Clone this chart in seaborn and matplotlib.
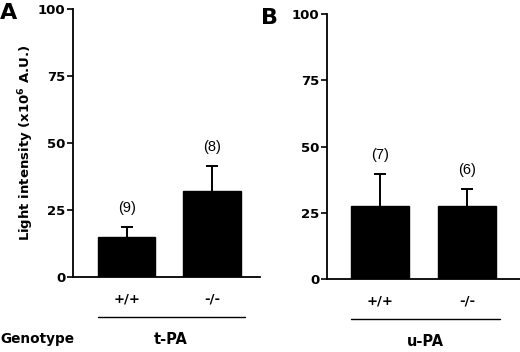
import matplotlib
matplotlib.use("Agg")
import matplotlib.pyplot as plt
import matplotlib.transforms as mtransforms
import seaborn as sns
import numpy as np
import pandas as pd

### values
GENOTYPES = ["+/+", "-/-"]
TPA_MEAN = [15.0, 32.3]
TPA_SEM = [3.6, 9.0]
TPA_N = ["(9)", "(8)"]
UPA_MEAN = [27.7, 27.6]
UPA_SEM = [11.8, 6.4]
UPA_N = ["(7)", "(6)"]
YTICKS = [0, 25, 50, 75, 100]

sns.set_style("ticks")
plt.rcParams["font.family"] = ["DejaVu Sans"]
plt.rcParams["mathtext.fontset"] = "custom"
plt.rcParams["mathtext.rm"] = "DejaVu Sans:bold"
plt.rcParams["mathtext.bf"] = "DejaVu Sans:bold"
for k in ["text.color", "axes.labelcolor", "xtick.color", "ytick.color"]:
	plt.rcParams[k] = "black"


def draw_panel(ax, means, sems, ns, group, letter, xlim, letter_x):
	df = pd.DataFrame({"genotype": GENOTYPES, "value": means})
	sns.barplot(data=df, x="genotype", y="value", color="black",
	            width=0.67, errorbar=None, ax=ax, saturation=1, zorder=3)
	for p in ax.patches:
		p.set_edgecolor("black")
	x = np.arange(len(means))
	### symmetric SEM drawn behind the bars, so only the upper half shows
	ax.errorbar(x, means, yerr=sems, fmt="none", ecolor="black",
	            elinewidth=1.4, capsize=4, capthick=1.4, zorder=1)
	tops = np.array(means) + np.array(sems)
	for xi, top, n in zip(x, tops, ns):
		ax.annotate(n, (xi, top), xytext=(0, 14), textcoords="offset points",
		            ha="center", va="center", fontsize=10.5,
		            family="Liberation Sans")
	ax.set_ylim(0, 100)
	ax.set_xlim(*xlim)
	ax.set_yticks(YTICKS)
	ax.set_xlabel("")
	ax.set_ylabel("")
	for lab in ax.get_yticklabels() + ax.get_xticklabels():
		lab.set_fontweight("bold")
		lab.set_fontsize(9.5)
	ax.tick_params(axis="y", length=4, width=1.2, pad=1.5)
	ax.tick_params(axis="x", length=0, pad=11)
	sns.despine(ax=ax)
	for s in ["left", "bottom"]:
		ax.spines[s].set_linewidth(1.3)
		ax.spines[s].set_color("black")
		ax.spines[s].set_zorder(4)

	### group line under genotype labels
	trans = mtransforms.blended_transform_factory(ax.transData, ax.transAxes)
	left = x[0] - 0.34
	right = x[-1] + 0.38
	ax.plot([left, right], [-0.15, -0.15], color="black", lw=1.0,
	        transform=trans, clip_on=False)
	ax.text((left + right) / 2, -0.235, group, transform=trans, ha="center",
	        va="center", fontsize=10.5, fontweight="bold")
	ax.text(letter_x, 0.985, letter, transform=ax.transAxes, fontsize=16,
	        fontweight="bold", va="center", ha="left")


fig = plt.figure(figsize=(5.2, 3.52), dpi=100)
axA = fig.add_axes([0.140, 0.213, 0.360, 0.761])
axB = fig.add_axes([0.629, 0.207, 0.371, 0.753])

draw_panel(axA, TPA_MEAN, TPA_SEM, TPA_N, "t-PA", "A", (-0.63, 1.56), -0.39)
draw_panel(axB, UPA_MEAN, UPA_SEM, UPA_N, "u-PA", "B", (-0.61, 1.61), -0.345)

axA.set_ylabel(r"Light intensity (x10$^{6}$ A.U.)", fontsize=9.5,
               fontweight="bold")
axA.yaxis.set_label_coords(-0.195, 0.5)

fig.text(0.0, 0.037, "Genotype", fontsize=9.8, fontweight="bold",
         va="center", ha="left")

fig.savefig("out.png", dpi=100)
